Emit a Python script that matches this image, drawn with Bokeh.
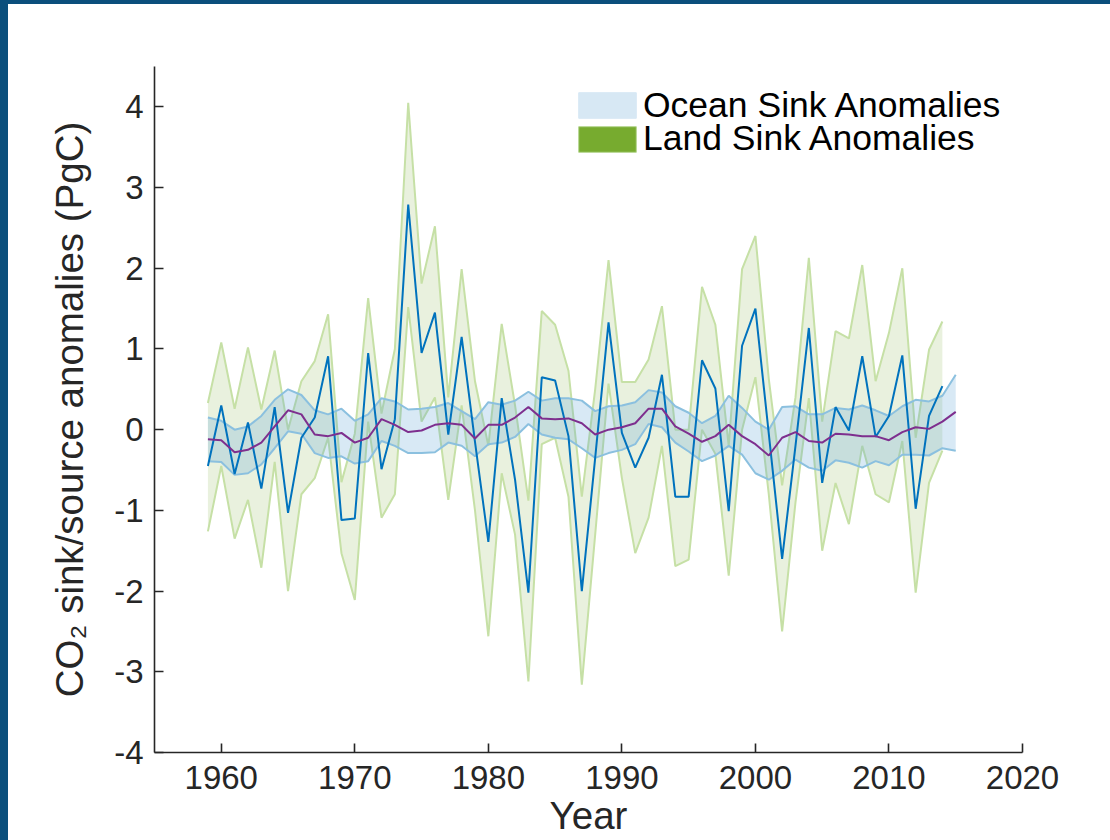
from bokeh.plotting import figure
from bokeh.models import Range1d, FixedTicker, Legend, LegendItem, ColumnDataSource
from bokeh.layouts import column
from bokeh.embed import file_html
from bokeh.resources import INLINE

# ---- data -------------------------------------------------------------
land_years = list(range(1959, 2015))
land_mean = [
    -0.45, 0.30, -0.55, 0.09, -0.73, 0.28, -1.03, -0.10, 0.15, 0.91,
    -1.12, -1.10, 0.95, -0.49, 0.13, 2.79, 0.95, 1.45, -0.06, 1.15,
    -0.15, -1.39, 0.39, -0.62, -2.02, 0.65, 0.61, -0.08, -2.00, -0.35,
    1.33, -0.04, -0.47, -0.10, 0.68, -0.83, -0.83, 0.86, 0.51, -1.01,
    1.04, 1.50, -0.05, -1.60, -0.20, 1.26, -0.66, 0.28, -0.01, 0.91,
    -0.09, 0.17, 0.92, -0.98, 0.17, 0.54,
]
land_upper = [
    0.33, 1.08, 0.26, 1.02, 0.25, 0.98, 0.00, 0.60, 0.85, 1.43,
    -0.65, -0.05, 1.63, 0.20, 1.00, 4.05, 1.81, 2.52, 0.40, 1.99,
    0.60, -0.20, 1.31, 0.30, -0.88, 1.47, 1.30, 0.73, -0.83, 0.50,
    2.10, 0.59, 0.59, 0.87, 1.53, 0.00, 0.00, 1.77, 1.30, -0.20,
    1.99, 2.40, 0.63, -0.69, 0.40, 2.13, 0.10, 1.22, 1.13, 2.04,
    0.60, 1.20, 2.00, -0.10, 0.99, 1.34,
]
land_lower = [
    -1.26, -0.45, -1.35, -0.87, -1.71, -0.40, -2.00, -0.80, -0.60, -0.10,
    -1.53, -2.11, 0.10, -1.09, -0.80, 1.52, 0.10, 0.40, -0.87, 0.30,
    -1.00, -2.56, -0.54, -1.30, -3.12, -0.18, -0.10, -0.83, -3.16, -1.30,
    0.57, -0.60, -1.53, -1.09, -0.20, -1.69, -1.61, 0.00, -0.30, -1.81,
    0.00, 0.65, -0.80, -2.50, -0.90, 0.39, -1.50, -0.66, -1.17, -0.20,
    -0.80, -0.90, -0.14, -2.02, -0.66, -0.26,
]

ocean_years = list(range(1959, 2016))
ocean_mean = [
    -0.12, -0.13, -0.28, -0.25, -0.16, 0.04, 0.24, 0.19, -0.06, -0.08,
    -0.04, -0.16, -0.10, 0.13, 0.06, -0.03, -0.01, 0.06, 0.08, 0.06,
    -0.11, 0.06, 0.06, 0.15, 0.28, 0.14, 0.13, 0.14, 0.08, -0.06,
    0.00, 0.03, 0.08, 0.26, 0.26, 0.04, -0.05, -0.15, -0.08, 0.06,
    -0.08, -0.18, -0.32, -0.10, -0.03, -0.14, -0.16, -0.05, -0.06, -0.08,
    -0.08, -0.13, -0.03, 0.03, 0.01, 0.10, 0.22,
]
ocean_upper = [
    0.15, 0.11, 0.00, 0.04, 0.17, 0.37, 0.50, 0.43, 0.24, 0.19,
    0.26, 0.11, 0.19, 0.39, 0.35, 0.25, 0.26, 0.28, 0.33, 0.23,
    0.13, 0.34, 0.31, 0.36, 0.47, 0.36, 0.39, 0.39, 0.36, 0.23,
    0.29, 0.30, 0.34, 0.49, 0.46, 0.29, 0.21, 0.08, 0.17, 0.42,
    0.27, 0.10, 0.00, 0.28, 0.29, 0.19, 0.19, 0.27, 0.25, 0.30,
    0.24, 0.17, 0.29, 0.37, 0.35, 0.42, 0.68,
]
ocean_lower = [
    -0.39, -0.40, -0.56, -0.54, -0.43, -0.23, -0.02, -0.05, -0.29, -0.35,
    -0.33, -0.42, -0.39, -0.14, -0.20, -0.29, -0.29, -0.28, -0.16, -0.20,
    -0.33, -0.18, -0.16, -0.09, 0.07, -0.06, -0.10, -0.12, -0.23, -0.35,
    -0.29, -0.25, -0.18, 0.07, 0.03, -0.16, -0.27, -0.39, -0.32, -0.20,
    -0.31, -0.54, -0.62, -0.51, -0.37, -0.47, -0.51, -0.38, -0.41, -0.47,
    -0.39, -0.44, -0.31, -0.31, -0.32, -0.23, -0.26,
]

x_ticks = [1960, 1970, 1980, 1990, 2000, 2010, 2020]
y_ticks = [-4, -3, -2, -1, 0, 1, 2, 3, 4]
series_names = ["Ocean Sink Anomalies", "Land Sink Anomalies"]
x_title = "Year"
y_title = "CO\u2082 sink/source anomalies (PgC)"

# ---- styling ----------------------------------------------------------
FONT = "Liberation Sans"
INK = "#262626"
FRAME = "#0b4f7c"
LAND_EDGE = "#c6e0a6"
LAND_FILL = "#77ab2f"
OCEAN_EDGE = "#8bc0df"
OCEAN_FILL = "#5aa2d6"
LAND_LINE = "#0072bd"
OCEAN_LINE = "#7e2f8e"

land = ColumnDataSource(dict(x=land_years, mean=land_mean, hi=land_upper, lo=land_lower))
ocean = ColumnDataSource(dict(x=ocean_years, mean=ocean_mean, hi=ocean_upper, lo=ocean_lower))

x_lo, x_hi = 1955, 2020
y_lo, y_hi = -4, 4.5

p = figure(
    width=1102, height=836,
    x_range=Range1d(x_lo, x_hi), y_range=Range1d(y_lo, y_hi),
    output_backend="svg", toolbar_location=None,
    min_border_left=146, min_border_right=88,
    min_border_top=62, min_border_bottom=88,
    background_fill_color="white", border_fill_color="white",
)
p.outline_line_color = None
p.xgrid.visible = False
p.ygrid.visible = False

# land uncertainty band
p.varea(x="x", y1="lo", y2="hi", source=land, fill_color=LAND_FILL, fill_alpha=0.16)
p.line(x="x", y="hi", source=land, line_color=LAND_EDGE, line_width=2)
p.line(x="x", y="lo", source=land, line_color=LAND_EDGE, line_width=2)

# ocean uncertainty band
p.varea(x="x", y1="lo", y2="hi", source=ocean, fill_color=OCEAN_FILL, fill_alpha=0.24)
p.line(x="x", y="hi", source=ocean, line_color=OCEAN_EDGE, line_width=2)
p.line(x="x", y="lo", source=ocean, line_color=OCEAN_EDGE, line_width=2)

# central estimates
p.line(x="x", y="mean", source=land, line_color=LAND_LINE, line_width=2)
p.line(x="x", y="mean", source=ocean, line_color=OCEAN_LINE, line_width=2)

# legend swatches: solid-colour proxies that draw nothing in the plot area
nan = float("nan")
proxy = ColumnDataSource(dict(l=[nan], r=[nan], t=[nan], b=[nan]))
sw_ocean = p.quad(left="l", right="r", top="t", bottom="b", source=proxy,
                  fill_color="#d7e8f4", line_color="#d7e8f4", line_width=1)
sw_land = p.quad(left="l", right="r", top="t", bottom="b", source=proxy,
                 fill_color=LAND_FILL, line_color="#b4d58e", line_width=1)

for name, rend, loc in [(series_names[0], sw_ocean, (417, 626.5)),
                        (series_names[1], sw_land, (417, 593))]:
    lg = Legend(items=[LegendItem(label=name, renderers=[rend])], location=loc)
    lg.padding = 0
    lg.margin = 0
    lg.spacing = 0
    lg.border_line_color = None
    lg.background_fill_alpha = 0
    lg.glyph_width = 72
    lg.glyph_height = 32
    lg.label_standoff = 0
    lg.label_text_font = FONT
    lg.label_text_font_size = "35.5px"
    lg.label_text_color = "black"
    lg.label_height = 26
    p.add_layout(lg, "center")

# axes
for ax in (p.xaxis[0], p.yaxis[0]):
    ax.axis_line_color = INK
    ax.axis_line_width = 1.6
    ax.major_tick_line_color = INK
    ax.major_tick_line_width = 1.6
    ax.major_tick_in = 9
    ax.major_tick_out = 0
    ax.minor_tick_line_color = None
    ax.major_label_text_font = FONT
    ax.major_label_text_font_size = "33px"
    ax.major_label_text_color = INK
    ax.axis_label_text_font = FONT
    ax.axis_label_text_font_size = "38.5px"
    ax.axis_label_text_font_style = "normal"
    ax.axis_label_text_color = INK

p.xaxis.ticker = FixedTicker(ticks=x_ticks)
p.yaxis.ticker = FixedTicker(ticks=y_ticks)
p.xaxis.major_label_overrides = {t: str(t) for t in x_ticks}
p.yaxis.major_label_overrides = {t: str(t) for t in y_ticks}
p.xaxis.major_label_standoff = 13
p.yaxis.major_label_standoff = 11
p.xaxis.axis_label = x_title
p.yaxis.axis_label = y_title
p.xaxis.axis_label_standoff = 2
p.yaxis.axis_label_standoff = 20

page = column(p, styles={"background-color": "white",
                         "border-left": f"8px solid {FRAME}",
                         "border-top": f"4px solid {FRAME}"})

with open("out.html", "w") as f:
    f.write(file_html(page, INLINE))
